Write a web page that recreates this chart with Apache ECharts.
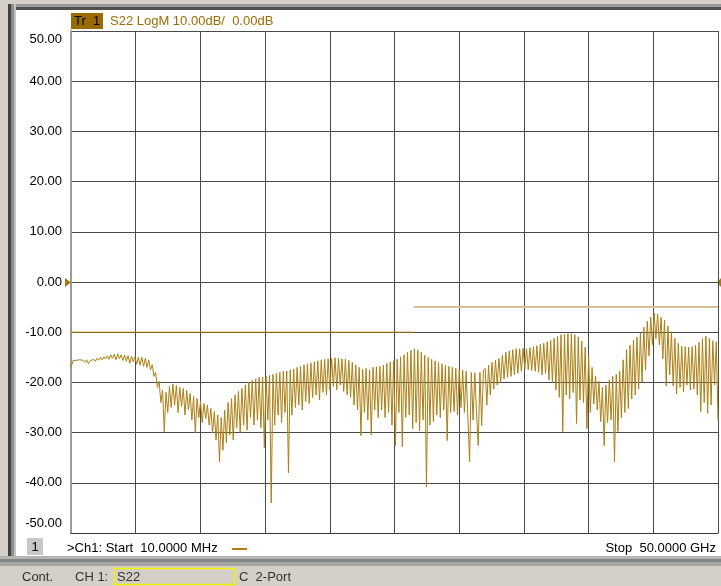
<!DOCTYPE html>
<html>
<head>
<meta charset="utf-8">
<script src="https://cdn.jsdelivr.net/npm/echarts@6/dist/echarts.min.js"></script>
<style>
  html, body { margin: 0; padding: 0; background: #fff; }
  #vna { width: 721px; height: 586px; }
</style>
</head>
<body>
<div id="vna"></div>
<script>
// sweep: 10 MHz .. 50 GHz, linear
var startGHz = 0.01;
var stopGHz = 50;

// S22 magnitude (dB), one value per sweep point
var s22 = [
  -17.0, -15.7, -16.0, -15.6, -15.9, -15.5, -15.8, -15.6, -16.0, -15.5,
  -16.3, -15.7, -15.9, -15.4, -15.8, -15.2, -15.6, -15.0, -15.5, -14.9,
  -15.3, -14.7, -15.4, -14.5, -15.2, -14.4, -15.5, -14.3, -15.3, -14.5,
  -15.6, -14.6, -15.8, -14.7, -16.2, -14.8, -15.9, -14.9, -16.4, -15.0,
  -16.6, -15.0, -16.8, -15.2, -17.0, -15.5, -17.5, -16.5, -18.8, -18.0,
  -21.0, -19.8, -24.0, -21.5, -29.8, -22.0, -26.0, -20.8, -25.0, -20.3,
  -24.5, -20.6, -26.0, -21.0, -24.8, -21.2, -26.5, -21.6, -25.5, -22.2,
  -27.5, -22.8, -30.0, -23.2, -27.0, -23.8, -28.0, -24.2, -27.2, -24.5,
  -28.5, -25.2, -30.0, -25.8, -31.5, -26.5, -35.8, -27.0, -33.5, -25.5,
  -32.0, -24.0, -30.5, -23.2, -31.5, -22.5, -29.0, -21.8, -30.0, -21.2,
  -28.5, -20.5, -29.5, -20.0, -27.0, -19.6, -28.5, -19.3, -27.5, -19.0,
  -29.0, -18.9, -33.0, -18.7, -27.5, -18.6, -44.0, -18.4, -28.5, -18.2,
  -26.5, -18.0, -28.0, -17.8, -26.0, -17.7, -38.0, -17.5, -26.5, -17.3,
  -25.0, -17.0, -24.5, -16.8, -25.5, -16.5, -23.8, -16.3, -24.2, -16.1,
  -23.0, -15.9, -22.5, -15.7, -23.5, -15.5, -22.0, -15.4, -22.5, -15.3,
  -21.5, -15.2, -20.8, -15.1, -21.5, -15.2, -20.5, -15.3, -21.8, -15.4,
  -22.5, -15.6, -23.0, -16.0, -24.5, -16.5, -25.5, -17.0, -30.6, -17.4,
  -26.0, -17.2, -27.5, -17.5, -30.5, -17.0, -25.5, -16.9, -27.0, -16.8,
  -25.5, -16.6, -27.0, -16.2, -26.0, -15.9, -28.5, -15.7, -32.6, -15.4,
  -26.0, -14.9, -32.8, -14.5, -27.0, -14.0, -26.5, -13.6, -29.2, -13.3,
  -28.0, -13.6, -29.6, -14.0, -27.5, -14.6, -40.8, -15.0, -28.5, -15.4,
  -27.8, -15.7, -26.5, -16.0, -27.0, -16.3, -25.5, -16.6, -31.6, -16.8,
  -26.0, -17.0, -25.8, -17.2, -26.5, -17.4, -25.0, -17.6, -26.0, -17.8,
  -27.0, -35.8, -18.0, -27.5, -18.1, -26.0, -32.6, -18.0, -28.6, -17.6,
  -17.2, -24.5, -16.6, -22.5, -16.0, -21.3, -15.6, -20.5, -15.2, -20.0,
  -14.6, -19.3, -14.0, -19.0, -13.7, -18.8, -13.5, -18.5, -13.3, -18.2,
  -13.3, -17.8, -13.2, -17.3, -13.3, -17.5, -13.1, -17.6, -12.9, -17.8,
  -12.7, -18.0, -12.4, -18.5, -12.2, -18.2, -11.9, -19.5, -11.6, -20.0,
  -11.2, -21.5, -10.8, -23.0, -10.5, -29.8, -10.4, -22.5, -10.3, -23.3,
  -10.3, -22.0, -10.5, -28.2, -10.9, -23.5, -11.8, -24.0, -13.0, -29.2,
  -14.7, -26.0, -17.0, -24.3, -18.7, -25.5, -19.8, -27.8, -21.0, -32.6,
  -20.5, -28.0, -19.5, -27.5, -18.8, -35.8, -18.4, -29.8, -17.8, -27.0,
  -15.5, -26.0, -13.5, -25.2, -12.6, -23.3, -11.6, -22.5, -11.0, -21.3,
  -10.2, -20.0, -9.0, -17.5, -7.8, -14.7, -7.0, -12.5, -6.2, -11.3,
  -6.4, -12.5, -7.0, -15.3, -7.6, -20.7, -8.8, -18.5, -9.9, -20.7,
  -11.2, -22.3, -12.2, -21.0, -12.8, -21.9, -12.9, -20.5, -13.0, -21.5,
  -12.9, -21.3, -12.6, -22.5, -12.0, -25.8, -11.3, -24.0, -10.8, -26.2,
  -11.2, -24.5, -11.7, -20.5, -11.9, -27.5
];

// limit lines [freq GHz, dB]
var limitLow = [[0.01, -10], [26.5, -10]];
var limitHigh = [[26.5, -5], [50, -5]];

// stimulus points of the sweep
var freq = [];
for (var i = 0; i < s22.length; i++) {
  freq.push(startGHz + i * (stopGHz - startGHz) / (s22.length - 1));
}
var traceData = s22.map(function (v, i) { return [freq[i], v]; });

var font = '"Liberation Sans", Arial, sans-serif';

var myChart = echarts.init(document.getElementById('vna'));
option = {
    animation: false,
    backgroundColor: '#ffffff',
    textStyle: { fontFamily: font },
    grid: { left: 71, right: 3, top: 31, bottom: 53 },
    xAxis: {
        type: 'value',
        min: 0,
        max: 50,
        interval: 5,
        axisLabel: { show: false },
        axisTick: { show: false },
        axisLine: { show: true, onZero: false, lineStyle: { color: '#3a3a3a', width: 1 } },
        splitLine: { show: true, lineStyle: { color: '#4a4a4a', width: 1 } }
    },
    yAxis: {
        type: 'value',
        min: -50,
        max: 50,
        interval: 10,
        axisTick: { show: false },
        axisLine: { show: true, lineStyle: { color: '#9a9a9a', width: 2 } },
        splitLine: { show: true, lineStyle: { color: '#4a4a4a', width: 1 } },
        axisLabel: {
            margin: 9,
            color: '#000',
            fontSize: 13,
            fontFamily: font,
            formatter: function (v) {
                var s = v.toFixed(2);
                if (v === 50) return '{t|' + s + '}';
                if (v === -50) return '{b|' + s + '}';
                return s;
            },
            rich: {
                t: { padding: [16, 0, 0, 0], fontSize: 13, color: '#000', fontFamily: font },
                b: { padding: [0, 0, 20, 0], fontSize: 13, color: '#000', fontFamily: font }
            }
        }
    },
    series: [
        {
            name: 'limitLow',
            type: 'line',
            data: limitLow,
            showSymbol: false,
            lineStyle: { color: '#a8780e', width: 1 },
            z: 2
        },
        {
            name: 'limitHigh',
            type: 'line',
            data: limitHigh,
            showSymbol: false,
            lineStyle: { color: '#d6bf90', width: 2 },
            z: 2
        },
        {
            name: 'S22',
            type: 'line',
            data: traceData,
            showSymbol: false,
            sampling: null,
            lineStyle: { color: '#ad7f14', width: 1 },
            z: 3
        }
    ],
    graphic: [
        // outer frame
        { type: 'rect', shape: { x: 0, y: 0, width: 721, height: 4 }, style: { fill: '#d4d0c8' }, silent: true },
        { type: 'rect', shape: { x: 0, y: 4, width: 721, height: 3 }, style: { fill: '#9a9a9a' }, silent: true },
        { type: 'rect', shape: { x: 0, y: 7, width: 721, height: 3 }, style: { fill: '#505050' }, silent: true },
        { type: 'rect', shape: { x: 0, y: 0, width: 8, height: 566 }, style: { fill: '#d4d0c8' }, silent: true },
        { type: 'rect', shape: { x: 8, y: 4, width: 3, height: 556 }, style: { fill: '#404040' }, silent: true },
        { type: 'rect', shape: { x: 11, y: 4, width: 3, height: 556 }, style: { fill: '#8c8c8c' }, silent: true },
        { type: 'rect', shape: { x: 14, y: 4, width: 2, height: 556 }, style: { fill: '#c4c4c4' }, silent: true },
        { type: 'rect', shape: { x: 0, y: 556, width: 721, height: 3 }, style: { fill: '#b4b4b4' }, silent: true },
        { type: 'rect', shape: { x: 0, y: 559, width: 721, height: 3 }, style: { fill: '#858585' }, silent: true },
        { type: 'rect', shape: { x: 0, y: 562, width: 721, height: 4 }, style: { fill: '#a6a6a6' }, silent: true },
        // status bar
        { type: 'rect', shape: { x: 0, y: 566, width: 721, height: 20 }, style: { fill: '#d4d0c8' }, silent: true },
        { type: 'text', x: 22, y: 577, style: { text: 'Cont.', fill: '#333', font: '13px ' + font, verticalAlign: 'middle' } },
        { type: 'text', x: 75, y: 577, style: { text: 'CH 1:', fill: '#333', font: '13px ' + font, verticalAlign: 'middle' } },
        { type: 'rect', shape: { x: 114.5, y: 568.5, width: 120, height: 16 }, style: { fill: 'none', stroke: '#f2f200', lineWidth: 1.5 }, silent: true },
        { type: 'text', x: 117, y: 577, style: { text: 'S22', fill: '#333', font: '13px ' + font, verticalAlign: 'middle' } },
        { type: 'text', x: 239, y: 577, style: { text: 'C  2-Port', fill: '#333', font: '13px ' + font, verticalAlign: 'middle' } },
        // trace title
        { type: 'rect', shape: { x: 71, y: 13, width: 32, height: 16 }, style: { fill: '#9a6a04' }, silent: true },
        { type: 'text', x: 74, y: 21, style: { text: 'Tr  1', fill: '#000', font: '13px ' + font, verticalAlign: 'middle' } },
        { type: 'text', x: 110, y: 21, style: { text: 'S22 LogM 10.00dB/  0.00dB', fill: '#9c6c02', font: '13px ' + font, verticalAlign: 'middle' } },
        // reference level markers
        { type: 'polygon', shape: { points: [[65, 278], [71, 282.5], [65, 287]] }, style: { fill: '#a8780e' }, silent: true },
        { type: 'polygon', shape: { points: [[721, 278], [717, 282.5], [721, 287]] }, style: { fill: '#a8780e' }, silent: true },
        // channel footer
        { type: 'rect', shape: { x: 27, y: 538, width: 16, height: 17 }, style: { fill: '#c8c8c8' }, silent: true },
        { type: 'text', x: 35, y: 547, style: { text: '1', fill: '#000', font: '13px ' + font, align: 'center', verticalAlign: 'middle' } },
        { type: 'text', x: 67, y: 548, style: { text: '>Ch1: Start  10.0000 MHz', fill: '#000', font: '13px ' + font, verticalAlign: 'middle' } },
        { type: 'rect', shape: { x: 232, y: 548, width: 15, height: 2 }, style: { fill: '#b08010' }, silent: true },
        { type: 'text', x: 716, y: 548, style: { text: 'Stop  50.0000 GHz', fill: '#000', font: '13px ' + font, align: 'right', verticalAlign: 'middle' } }
    ]
};
myChart.setOption(option);
</script>
</body>
</html>
